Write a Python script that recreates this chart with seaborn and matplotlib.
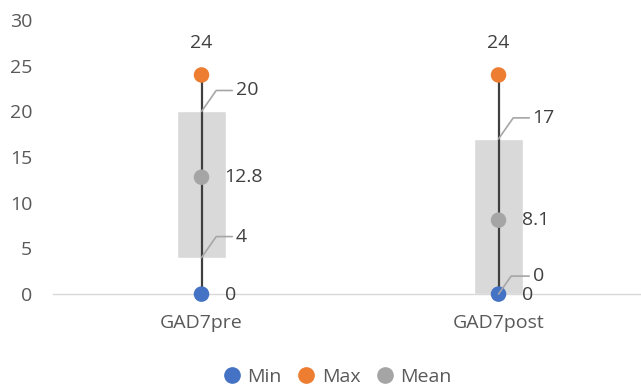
import matplotlib
matplotlib.use("Agg")
import matplotlib.pyplot as plt
import seaborn as sns
import pandas as pd
from matplotlib.lines import Line2D

# Summary statistics per measurement
categories = ["GAD7pre", "GAD7post"]
min_vals = [0, 0]
max_vals = [24, 24]
mean_vals = [12.8, 8.1]
box_low = [4, 0]
box_high = [20, 17]

c_min, c_max, c_mean = "#4472C4", "#ED7D31", "#A5A5A5"
txt = "#595959"
lbl = "#404040"

sns.set_theme(style="white")
plt.rcParams["font.family"] = ["Open Sans", "DejaVu Sans"]

fig = plt.figure(figsize=(6.41, 3.88), dpi=100)
ax = fig.add_axes([0.0827, 0.242, 0.9267, 0.706])

x = list(range(len(categories)))

# floating range boxes
ax.bar(x, [h - l for h, l in zip(box_high, box_low)], bottom=box_low,
       width=0.168, color="#D9D9D9", zorder=1)

# min-max whiskers
ax.vlines(x, min_vals, max_vals, color="#404040", lw=1.6, zorder=2)

points = pd.DataFrame({
    "x": x * 3,
    "value": min_vals + max_vals + mean_vals,
    "series": ["Min"] * 2 + ["Max"] * 2 + ["Mean"] * 2,
})
sns.scatterplot(data=points, x="x", y="value", hue="series",
                palette={"Min": c_min, "Max": c_max, "Mean": c_mean},
                s=125, edgecolor="none", zorder=3, legend=False, ax=ax)
for coll in ax.collections:
    coll.set_clip_on(False)

fs = 14
for i in x:
    ax.annotate(f"{max_vals[i]}", (i, max_vals[i]), xytext=(0, 32),
                textcoords="offset pixels", ha="center", va="center",
                fontsize=fs, color=lbl)
    ax.annotate(f"{mean_vals[i]:g}", (i, mean_vals[i]), xytext=(23, 0),
                textcoords="offset pixels", ha="left", va="center",
                fontsize=fs, color=lbl)
    ax.annotate(f"{min_vals[i]}", (i, min_vals[i]), xytext=(23, -1),
                textcoords="offset pixels", ha="left", va="center",
                fontsize=fs, color=lbl)
    # box edge labels with leader lines
    for v in (box_high[i], box_low[i]):
        dy = 21 if v > 0 else 18
        ax.annotate(f"{v}", (i, v), xytext=(34, dy),
                    textcoords="offset pixels", ha="left", va="center",
                    fontsize=fs, color=lbl,
                    arrowprops=dict(arrowstyle="-", color="#A6A6A6", lw=1.2,
                                    shrinkA=0, shrinkB=0,
                                    connectionstyle="angle,angleA=0,angleB=55,rad=0"))

ax.set_ylim(0, 30)
ax.set_xlim(-0.5, 1.5)
ax.set_yticks(range(0, 31, 5))
ax.set_xticks(x)
ax.set_xticklabels(categories)
ax.set_xlabel("")
ax.set_ylabel("")
ax.tick_params(axis="both", length=0, labelsize=fs, labelcolor=txt)
ax.tick_params(axis="x", pad=14)
ax.tick_params(axis="y", pad=15)
for s in ("top", "right", "left"):
    ax.spines[s].set_visible(False)
ax.spines["bottom"].set_color("#D9D9D9")
ax.spines["bottom"].set_linewidth(1)
ax.grid(False)

handles = [Line2D([], [], marker="o", ls="none", color=c, markersize=11)
           for c in (c_min, c_max, c_mean)]
fig.legend(handles, ["Min", "Max", "Mean"], loc="center", ncol=3,
           bbox_to_anchor=(0.522, 0.028), frameon=False, fontsize=fs,
           labelcolor=txt, handletextpad=0.05, columnspacing=0.5,
           handlelength=1.5, borderaxespad=0)

fig.savefig("out.png", dpi=100)
